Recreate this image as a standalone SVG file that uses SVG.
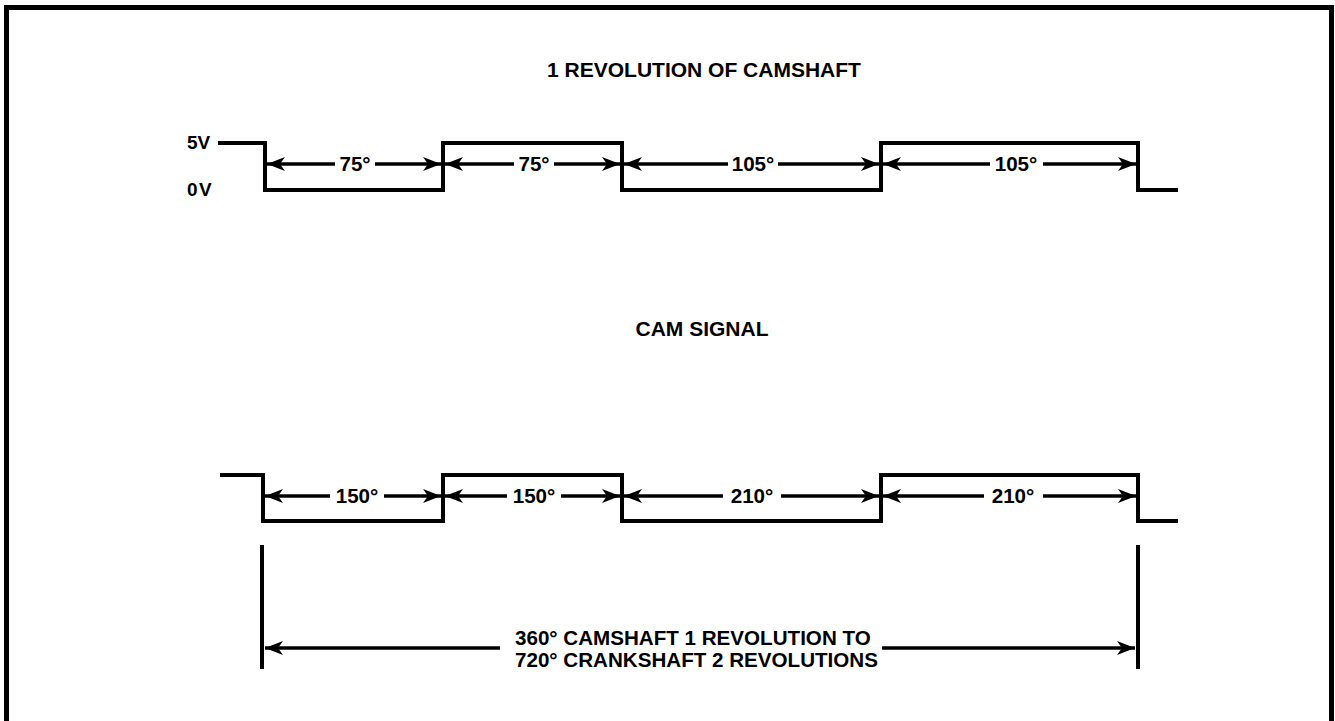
<svg xmlns="http://www.w3.org/2000/svg" width="1335" height="721" viewBox="0 0 1335 721">
<style>
.t{font-family:"Liberation Sans",Arial,sans-serif;font-weight:bold;fill:#000;font-size:20.6px}
.w{fill:none;stroke:#000;stroke-width:4;stroke-linejoin:miter;stroke-linecap:butt}
.d{fill:none;stroke:#000;stroke-width:3.5}
.b{fill:none;stroke:#000;stroke-width:5}
</style>
<defs>
<marker id="ah" viewBox="-18 -8 20 16" refX="0" refY="0" markerWidth="20" markerHeight="16" markerUnits="userSpaceOnUse" orient="auto-start-reverse">
<path d="M0,0 L-18,-7 L-13,0 L-18,7 Z" fill="#000"/>
</marker>
</defs>
<rect width="1335" height="721" fill="#fff"/>
<path class="b" d="M6.5,721 V7.5 H1331.5 V721"/>
<g id="title"><text class="t" x="704" y="77" text-anchor="middle" style="font-size:21px">1 REVOLUTION OF CAMSHAFT</text></g>
<g id="camsignal"><text class="t" x="702" y="336" text-anchor="middle" style="font-size:21px">CAM SIGNAL</text></g>
<g id="top-wave">
<text class="t" x="187" y="149" style="font-size:19px">5V</text>
<text class="t" x="187" y="196" style="font-size:19px;letter-spacing:1.5px">0V</text>
<path class="w" d="M218,143 H265 V190 H443 V143 H622 V190 H881 V143 H1138 V190 H1178"/>
</g>
<g id="bottom-wave">
<path class="w" d="M220,475 H263 V521 H443 V475 H622 V521 H881 V475 H1138 V521 H1178"/>
</g>
<g id="connectors">
<line class="d" x1="335" y1="164" x2="267" y2="164" marker-end="url(#ah)"/>
<line class="d" x1="375" y1="164" x2="441" y2="164" marker-end="url(#ah)"/>
<line class="d" x1="514" y1="164" x2="445" y2="164" marker-end="url(#ah)"/>
<line class="d" x1="554" y1="164" x2="620" y2="164" marker-end="url(#ah)"/>
<line class="d" x1="728" y1="164" x2="624" y2="164" marker-end="url(#ah)"/>
<line class="d" x1="778" y1="164" x2="879" y2="164" marker-end="url(#ah)"/>
<line class="d" x1="990" y1="164" x2="883" y2="164" marker-end="url(#ah)"/>
<line class="d" x1="1043" y1="164" x2="1136" y2="164" marker-end="url(#ah)"/>
<line class="d" x1="330" y1="496" x2="265" y2="496" marker-end="url(#ah)"/>
<line class="d" x1="384" y1="496" x2="441" y2="496" marker-end="url(#ah)"/>
<line class="d" x1="507" y1="496" x2="445" y2="496" marker-end="url(#ah)"/>
<line class="d" x1="561" y1="496" x2="620" y2="496" marker-end="url(#ah)"/>
<line class="d" x1="723" y1="496" x2="624" y2="496" marker-end="url(#ah)"/>
<line class="d" x1="781" y1="496" x2="879" y2="496" marker-end="url(#ah)"/>
<line class="d" x1="984" y1="496" x2="883" y2="496" marker-end="url(#ah)"/>
<line class="d" x1="1043" y1="496" x2="1136" y2="496" marker-end="url(#ah)"/>
<line class="w" x1="262" y1="545" x2="262" y2="669"/>
<line class="w" x1="1138" y1="545" x2="1138" y2="669"/>
<line class="d" x1="500" y1="648" x2="265" y2="648" marker-end="url(#ah)"/>
<line class="d" x1="882" y1="648" x2="1135" y2="648" marker-end="url(#ah)"/>
</g>
<g id="labels">
<text class="t" x="355" y="171" text-anchor="middle">75°</text>
<text class="t" x="534" y="171" text-anchor="middle">75°</text>
<text class="t" x="753" y="171" text-anchor="middle">105°</text>
<text class="t" x="1016" y="171" text-anchor="middle">105°</text>
<text class="t" x="357" y="503" text-anchor="middle">150°</text>
<text class="t" x="534" y="503" text-anchor="middle">150°</text>
<text class="t" x="752" y="503" text-anchor="middle">210°</text>
<text class="t" x="1013" y="503" text-anchor="middle">210°</text>
</g>
<g id="span-label">
<text class="t" x="515" y="645">360° CAMSHAFT 1 REVOLUTION TO</text>
<text class="t" x="515" y="667">720° CRANKSHAFT 2 REVOLUTIONS</text>
</g>
</svg>
